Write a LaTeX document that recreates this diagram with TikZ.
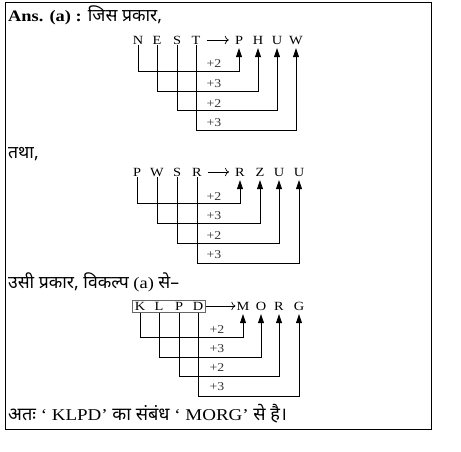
\documentclass[tikz,border=0pt]{standalone}
\usepackage{fontspec}
\setmainfont{Liberation Serif}[FakeStretch=1.15]
\newfontfamily\hindi[Script=Devanagari, Scale=1.1]{Noto Sans}
\usetikzlibrary{arrows.meta, fit}

\begin{document}
\begin{tikzpicture}[
        x=1pt, y=-1pt,
        letter/.style={inner sep=1pt, text height=8pt, text depth=0pt, font=\fontsize{12.5}{13}\selectfont},
        incr/.style={inner sep=0pt, text=black!80, font=\fontsize{12}{12}\selectfont},
        textline/.style={anchor=base west, inner sep=0pt, font=\fontsize{16}{18}\selectfont},
        link/.style={-{Triangle[width=6pt,length=9pt]}, line width=0.7pt, shorten >=3pt},
        maps/.style={-{To[length=4pt]}, line width=0.7pt, shorten <=5pt, shorten >=5pt}
    ]
    \useasboundingbox (0,0) rectangle (461,451);
    \draw[line width=0.8pt] (5,2.5) rectangle (431,429);

    % Text lines
    \node[textline] (head) at (8,21) {\textbf{Ans. (a) :} {\hindi जिस प्रकार,}};
    \node[textline] (tatha) at (8,158) {{\hindi तथा,}};
    \node[textline] (usi) at (8,288) {{\hindi उसी प्रकार, विकल्प} (a) {\hindi से–}};
    \node[textline, font=\fontsize{16.5}{18}\selectfont] (atah) at (8,420) {{\hindi अतः} ‘ KLPD’ {\hindi का संबंध} ‘ MORG’ {\hindi से है।}};

    % First example: NEST -> PHUW
    \node[letter] (n1) at (138,40) {N};
    \node[letter] (n2) at (157,40) {E};
    \node[letter] (n3) at (177,40) {S};
    \node[letter] (n4) at (196,40) {T};
    \node[letter] (p1) at (239,40) {P};
    \node[letter] (p2) at (258,40) {H};
    \node[letter] (p3) at (277,40) {U};
    \node[letter] (p4) at (296,40) {W};
    \coordinate (a1) at (0,71);
    \coordinate (a2) at (0,91);
    \coordinate (a3) at (0,110);
    \coordinate (a4) at (0,130);
    \node[incr] (ia1) at (214,64) {+2};
    \node[incr] (ia2) at (214,84) {+3};
    \node[incr] (ia3) at (214,104) {+2};
    \node[incr] (ia4) at (214,123) {+3};
    \draw[maps] (n4) -- (p1);
    \draw[link] (n1.south) -- (n1.south |- a1) -| (p1.south);
    \draw[link] (n2.south) -- (n2.south |- a2) -| (p2.south);
    \draw[link] (n3.south) -- (n3.south |- a3) -| (p3.south);
    \draw[link] (n4.south) -- (n4.south |- a4) -| (p4.south);

    % Second example: PWSR -> RZUU
    \node[letter] (q1) at (137,172) {P};
    \node[letter] (q2) at (157,172) {W};
    \node[letter] (q3) at (177,172) {S};
    \node[letter] (q4) at (197,172) {R};
    \node[letter] (s1) at (240,172) {R};
    \node[letter] (s2) at (260,172) {Z};
    \node[letter] (s3) at (279,172) {U};
    \node[letter] (s4) at (299,172) {U};
    \coordinate (b1) at (0,203);
    \coordinate (b2) at (0,223);
    \coordinate (b3) at (0,243);
    \coordinate (b4) at (0,263);
    \node[incr] (ib1) at (214,197) {+2};
    \node[incr] (ib2) at (214,216) {+3};
    \node[incr] (ib3) at (214,236) {+2};
    \node[incr] (ib4) at (214,255) {+3};
    \draw[maps] (q4) -- (s1);
    \draw[link] (q1.south) -- (q1.south |- b1) -| (s1.south);
    \draw[link] (q2.south) -- (q2.south |- b2) -| (s2.south);
    \draw[link] (q3.south) -- (q3.south |- b3) -| (s3.south);
    \draw[link] (q4.south) -- (q4.south |- b4) -| (s4.south);

    % Option (a): KLPD -> MORG
    \node[letter] (k1) at (140,306) {K};
    \node[letter] (k2) at (159,306) {L};
    \node[letter] (k3) at (179,306) {P};
    \node[letter] (k4) at (198,306) {D};
    \node[draw, gray!80!black, line width=0.6pt, inner sep=1pt, fit=(k1)(k4)] (kbox) {};
    \node[letter] (m1) at (243,306) {M};
    \node[letter] (m2) at (261,306) {O};
    \node[letter] (m3) at (279,306) {R};
    \node[letter] (m4) at (299,306) {G};
    \coordinate (c1) at (0,337);
    \coordinate (c2) at (0,357);
    \coordinate (c3) at (0,376);
    \coordinate (c4) at (0,396);
    \node[incr] (ic1) at (217,330) {+2};
    \node[incr] (ic2) at (217,349) {+3};
    \node[incr] (ic3) at (217,368) {+2};
    \node[incr] (ic4) at (217,387) {+3};
    \draw[maps, shorten <=0pt, shorten >=0pt] (kbox) -- (m1);
    \draw[link] (k1 |- kbox.south) -- (k1 |- c1) -| (m1.south);
    \draw[link] (k2 |- kbox.south) -- (k2 |- c2) -| (m2.south);
    \draw[link] (k3 |- kbox.south) -- (k3 |- c3) -| (m3.south);
    \draw[link] (k4 |- kbox.south) -- (k4 |- c4) -| (m4.south);

\end{tikzpicture}
\end{document}
